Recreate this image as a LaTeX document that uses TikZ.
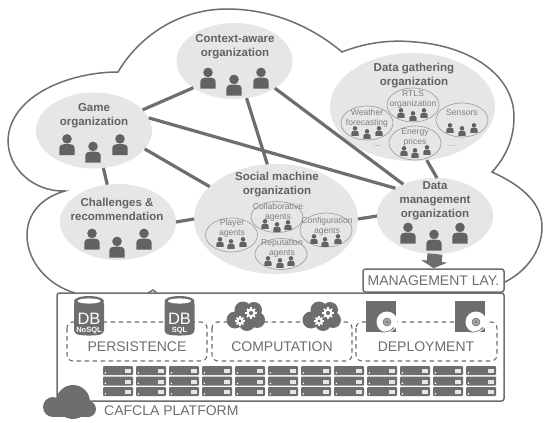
\documentclass[tikz,border=0pt]{standalone}
\usepackage{fontspec}
\setmainfont{Liberation Sans}
\usetikzlibrary{shapes.geometric,arrows.meta}
\definecolor{ink}{HTML}{6E6E6E}
\definecolor{txt}{HTML}{626262}
\definecolor{soft}{HTML}{808080}
\definecolor{org}{HTML}{E6E6E6}
\definecolor{rim}{HTML}{A2A2A2}
\tikzset{
  orgell/.style={ellipse,fill=org,inner sep=0pt,outer sep=0pt},
  subell/.style={ellipse,draw=rim,line width=0.7pt,inner sep=0pt,outer sep=0pt,minimum width=52pt,minimum height=34pt},
  conn/.style={draw=ink,line width=3.2pt},
  outline/.style={draw=ink,line width=1.5pt},
  orglabel/.style={font=\bfseries\fontsize{11.5}{14}\selectfont,text=txt,align=center,inner sep=0pt},
  sublabel/.style={font=\fontsize{8.6}{10}\selectfont,text=soft,align=center,inner sep=0pt},
  biglabel/.style={font=\fontsize{14}{16}\selectfont,text=ink,inner sep=0pt},
  dashbox/.style={draw=ink,line width=1.1pt,dash pattern=on 4.5pt off 3.5pt,rounded corners=6pt},
  boxed/.style={draw=ink,line width=1.5pt,rounded corners=2.5pt,inner sep=0pt,fill=white}
}
\newcommand\oneperson[3]{%
  \begin{scope}[shift={(#1,#2)},scale=#3]
    \fill[txt] (0,-5.6) circle (4.8);
    \fill[txt] (-7.6,10.5) -- (-7.6,3.5) .. controls (-7.6,0) and (-4,-0.4) .. (0,-0.4) .. controls (4,-0.4) and (7.6,0) .. (7.6,3.5) -- (7.6,10.5) -- cycle;
  \end{scope}}
\newcommand\trio[7]{\oneperson{#1}{#4}{#7}\oneperson{#2}{#5}{#7}\oneperson{#3}{#6}{#7}}
\newcommand\gearicon[3]{%
  \begin{scope}[shift={(#1,#2)}]
    \foreach \a in {0,45,...,315}{\draw[white,line width=1.7pt] (0,0) -- (\a:#3);}
    \fill[white] (0,0) circle (#3*0.78);
    \fill[ink] (0,0) circle (#3*0.35);
  \end{scope}}
\newcommand\cloudicon[5]{%
  \begin{scope}[shift={(#1,#2)}]
    \foreach \px/\py/\pr in {-11/4/8.5,-3/-6/8.5,8/-6/8,11/4/8,1/7/8,-3/1/9}{\fill[ink] (\px,\py) circle (\pr);}
  \end{scope}
  \gearicon{#3}{#4}{4.8}\gearicon{#5}{\the\numexpr#4-8\relax}{5.8}}
\newcommand\dbicon[2]{%
  \begin{scope}[shift={(#1,296)}]
    \fill[ink,rounded corners=3pt] (-15,5) -- (-15,37) .. controls (-8,40) and (8,40) .. (15,37) -- (15,5) -- cycle;
    \fill[ink] (0,5) ellipse (15 and 5);
    \fill[white] (0,5) ellipse (11.5 and 2.6);
    \node[font=\fontsize{16.5}{18}\selectfont,text=white,inner sep=0pt] (#2a) at (0,23.3) {DB};
  \end{scope}}
\newcommand\deployicon[1]{%
  \begin{scope}[shift={(#1,301)}]
    \fill[ink] (0,0) rectangle (30,30.5);
    \fill[white] (21,21) circle (10.5);
    \fill[rim] (21,21) circle (4);
    \draw[ink,line width=0.5pt] (21,21) circle (4);
    \fill[ink] (21,21) circle (1);
    \draw[ink,line width=0.6pt,-{Stealth[length=3pt]}] (15,31) .. controls (20,31.5) and (25,30) .. (28,26);
  \end{scope}}
\newcommand\rack[2]{%
  \begin{scope}[shift={(#1,#2)}]
    \fill[ink,rounded corners=1pt] (0,0) rectangle (30,9);
    \fill[org] (21.5,3.2) rectangle (28,7);
    \fill[white] (2.4,6.8) circle (0.9);
  \end{scope}}
\begin{document}
\begin{tikzpicture}[x=1pt,y=-1pt]
\useasboundingbox (0,0) rectangle (550,423);
\fill[white] (0,0) rectangle (550,423);
% cloud outline
\draw[outline,line join=miter]
  (75,293) .. controls (48,285) and (27,262) .. (27,235)
  .. controls (27,215) and (40,198) .. (65,191)
  .. controls (35,192) and (8,170) .. (8,140)
  .. controls (10,95) and (70,72) .. (118,72)
  .. controls (140,35) and (180,9) .. (227,9)
  .. controls (270,9) and (310,25) .. (342,52)
  .. controls (370,41) and (395,40) .. (415,42)
  .. controls (470,46) and (514,75) .. (514,117)
  .. controls (514,140) and (505,158) .. (492,172)
  .. controls (525,187) and (542,205) .. (542,227)
  .. controls (542,252) and (525,272) .. (505,282);
\draw[outline] (148,293) -- (153,290) -- (157,293);
% organizations
\node[orgell,minimum width=116pt,minimum height=76pt] (ctx) at (234.5,61) {};
\node[orgell,minimum width=116pt,minimum height=76pt] (game) at (94,130.5) {};
\node[orgell,minimum width=116pt,minimum height=76pt] (chal) at (118,222) {};
\node[orgell,minimum width=164pt,minimum height=110pt] (soc) at (276,219) {};
\node[orgell,minimum width=165pt,minimum height=108pt] (gath) at (412.5,107) {};
\node[orgell,minimum width=116pt,minimum height=76pt] (dm) at (435,216) {};
% connectors
\draw[conn] (game.23) -- (ctx.213);
\draw[conn] (game.13) -- (dm.145);
\draw[conn] (game.-20) -- (soc.154);
\draw[conn] (game.-76) -- (chal.106);
\draw[conn] (chal.east) -- (soc.west);
\draw[conn] (ctx.-72) -- (soc.99);
\draw[conn] (ctx.-34) -- (dm.135);
\draw[conn] (gath.-75) -- (dm.87);
\draw[conn] (soc.east) -- (dm.west);
% labels
\node[orglabel] (lctx) at (235,47) {Context-aware\\organization};
\node[orglabel] (lgame) at (94,116) {Game\\organization};
\node[orglabel] (lchal) at (117,209) {Challenges \&\\recommendation};
\node[orglabel] (lsoc) at (277,184.5) {Social machine\\organization};
\node[orglabel] (lgath) at (414,76) {Data gathering\\organization};
\node[orglabel] (ldm) at (435,200.5) {Data\\management\\organization};
\trio{208}{234}{261}{78}{85}{78}{1}
\trio{67}{93}{120}{144.5}{152}{144.5}{1}
\trio{92}{117}{144}{239}{247}{239}{1}
\trio{408}{434}{460}{233}{240}{233}{1}
% sub organizations
\node[subell] (player) at (231.5,235) {};
\node[subell,minimum height=31pt] (collab) at (277,217) {};
\node[subell] (config) at (326,230) {};
\node[subell,minimum height=31pt] (rep) at (281,254) {};
\node[subell] (rtls) at (413,105) {};
\node[subell] (weather) at (367,123) {};
\node[subell] (sensors) at (462,120) {};
\node[subell] (energy) at (415,143) {};
\node[sublabel] (lplayer) at (232,228) {Player\\agents};
\node[sublabel] (lcollab) at (278,212) {Collaborative\\agents};
\node[sublabel] (lconfig) at (327,226.5) {Configuration\\agents};
\node[sublabel] (lrep) at (282,248) {Reputation\\agents};
\node[sublabel] (lrtls) at (413,99) {RTLS\\organization};
\node[sublabel] (lweather) at (367,118) {Weather\\forecasting};
\node[sublabel] (lsensors) at (462,113) {Sensors};
\node[sublabel] (lenergy) at (415,137) {Energy\\prices};
\node[sublabel] (dots1) at (377,146) {...};
\node[sublabel] (dots2) at (452,146) {...};
\trio{220}{231}{243}{242}{244}{242}{0.47}
\trio{265}{277}{288}{224}{227}{225}{0.47}
\trio{314}{325}{338}{239}{242}{239}{0.47}
\trio{268}{280}{291}{261}{263}{261}{0.47}
\trio{401}{413}{424}{113}{116}{113}{0.47}
\trio{355}{367}{379}{131}{134}{131}{0.47}
\trio{450}{462}{474}{128}{131}{128}{0.47}
\trio{404}{415}{427}{151}{153}{150}{0.47}
% platform
\node[boxed,fill=none,minimum width=447pt,minimum height=108pt] (plat) at (280.5,347) {};
\node[boxed,minimum width=141pt,minimum height=23pt,font=\fontsize{14}{16}\selectfont,text=ink] (mgmt) at (433.5,280.5) {MANAGEMENT LAY.};
\draw[draw=ink,line width=15pt,-{Triangle[length=7pt,width=26pt]},shorten >=0pt] (dm.south) -- (mgmt.north);
% dashed groups
\draw[dashbox] (67,322) rectangle (207,361);
\draw[dashbox] (212,322) rectangle (352,361);
\draw[dashbox] (356,322) rectangle (497,361);
\node[biglabel] (lpers) at (137,347) {PERSISTENCE};
\node[biglabel] (lcomp) at (282,347) {COMPUTATION};
\node[biglabel] (ldep) at (426,347) {DEPLOYMENT};
% icons
\dbicon{89}{nosql}
\dbicon{179.5}{sql}
\node[font=\bfseries\fontsize{7.5}{8}\selectfont,text=white,inner sep=0pt] (lnosql) at (89,331) {NoSQL};
\node[font=\bfseries\fontsize{7.5}{8}\selectfont,text=white,inner sep=0pt] (lsql) at (179.5,331) {SQL};
\cloudicon{246}{316}{240}{321}{251}
\cloudicon{322}{316}{319}{321}{328}
\deployicon{366}
\deployicon{455}
% servers
\foreach \c in {0,...,11}{
  \foreach \r in {366,376.5,387}{
    \rack{103+33*\c}{\r}
  }
}
% platform cloud
\fill[ink] (73,402) circle (17);
\fill[ink] (53,407) circle (10);
\fill[ink] (88,409) circle (8);
\fill[ink] (53,405) rectangle (90,417);
\node[biglabel,anchor=west] (lplat) at (104,411) {CAFCLA PLATFORM};
\end{tikzpicture}
\end{document}
